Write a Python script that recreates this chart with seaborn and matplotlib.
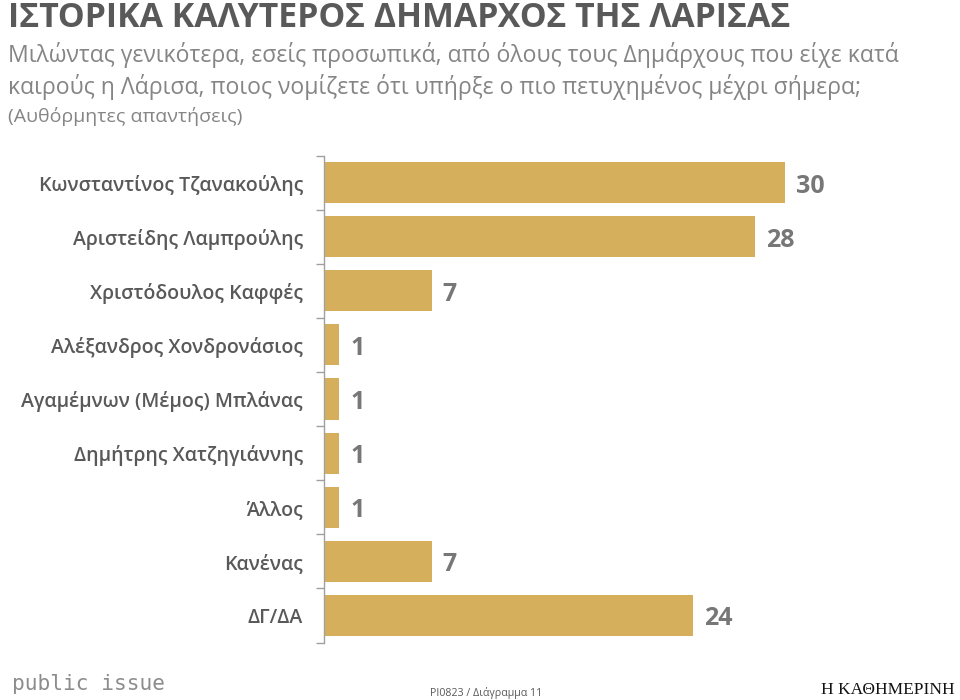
import matplotlib
matplotlib.use("Agg")
import matplotlib.pyplot as plt
import seaborn as sns
import pandas as pd
import numpy as np

categories = [
    "Κωνσταντίνος Τζανακούλης",
    "Αριστείδης Λαμπρούλης",
    "Χριστόδουλος Καφφές",
    "Αλέξανδρος Χονδρονάσιος",
    "Αγαμέμνων (Μέμος) Μπλάνας",
    "Δημήτρης Χατζηγιάννης",
    "Άλλος",
    "Κανένας",
    "ΔΓ/ΔΑ",
]
values = [30, 28, 7, 1, 1, 1, 1, 7, 24]

title = "ΙΣΤΟΡΙΚΑ ΚΑΛΥΤΕΡΟΣ ΔΗΜΑΡΧΟΣ ΤΗΣ ΛΑΡΙΣΑΣ"
subtitle1 = "Μιλώντας γενικότερα, εσείς προσωπικά, από όλους τους Δημάρχους που είχε κατά"
subtitle2 = "καιρούς η Λάρισα, ποιος νομίζετε ότι υπήρξε ο πιο πετυχημένος μέχρι σήμερα;"
subtitle3 = "(Αυθόρμητες απαντήσεις)"
footer_left = "public issue"
footer_mid = "PI0823 / Διάγραμμα 11"
footer_right = "Η ΚΑΘΗΜΕΡΙΝΗ"

df = pd.DataFrame({"category": categories, "value": values})

sns.set_theme(style="white")
FONT = ["Open Sans", "DejaVu Sans"]
plt.rcParams["font.family"] = FONT

W, H = 960, 700
fig = plt.figure(figsize=(9.6, 7.0), dpi=100)
fig.patch.set_facecolor("white")

ax_left, ax_right = 324, 939
ax_top, ax_bot = 155.5, 642.5
ax = fig.add_axes([ax_left / W, 1 - ax_bot / H, (ax_right - ax_left) / W, (ax_bot - ax_top) / H])

BAR = "#D6AF5D"
sns.barplot(data=df, y="category", x="value", orient="h", color=BAR,
            width=0.76, saturation=1, ax=ax, edgecolor="none")
ax.set_xlim(0, 40)
ax.set_ylim(len(categories) - 0.5, -0.5)
ax.set_xlabel("")
ax.set_ylabel("")
ax.set_xticks([])
for s in ["top", "right", "bottom"]:
    ax.spines[s].set_visible(False)
ax.spines["left"].set_color("#A0A0A0")
ax.spines["left"].set_linewidth(1.0)

# ticks at category boundaries, labels at centers
ax.set_yticks(np.arange(-0.5, len(categories), 1.0), minor=False)
ax.set_yticklabels([])
ax.tick_params(axis="y", which="major", length=6, width=1.0, color="#A0A0A0", direction="out", left=True)
ax.set_yticks(np.arange(len(categories)), minor=True)
ax.set_yticklabels(categories, minor=True)
ax.tick_params(axis="y", which="minor", length=0, pad=15, labelsize=14.0, labelcolor="#595959")
for lbl in ax.get_yticklabels(minor=True):
    lbl.set_fontweight("semibold")

for cont in ax.containers:
    anns = ax.bar_label(cont, labels=[str(v) for v in values], padding=8,
                        fontsize=18, fontweight="bold", color="#777777")
    for a in anns:
        a.xyann = (8, -2.5)

fig.text(8 / W, 1 - 27 / H, title, fontsize=24.4, fontweight="bold", color="#595959",
         ha="left", va="baseline")
fig.text(8 / W, 1 - 62 / H, subtitle1, fontsize=16.6, color="#858585", ha="left", va="baseline")
fig.text(8 / W, 1 - 94 / H, subtitle2, fontsize=16.6, color="#858585", ha="left", va="baseline")
fig.text(8 / W, 1 - 122 / H, subtitle3, fontsize=14.0, color="#858585", ha="left", va="baseline")

fig.text(12 / W, 1 - 690 / H, footer_left, fontsize=15.2, color="#8C8C8C", ha="left",
         va="baseline", family=["DejaVu Sans Mono", "DejaVu Sans"])
fig.text(430 / W, 1 - 696 / H, footer_mid, fontsize=7.7, color="#595959", ha="left", va="baseline")
fig.text(955 / W, 1 - 694 / H, footer_right, fontsize=12.5, color="#111111", ha="right",
         va="baseline", family=["Liberation Serif", "DejaVu Serif"])

fig.savefig("out.png", dpi=100, facecolor="white")
